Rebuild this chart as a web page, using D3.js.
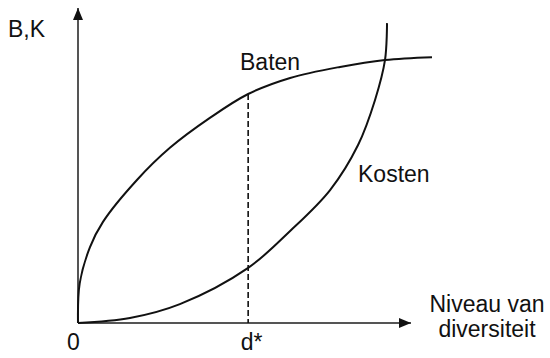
<!DOCTYPE html>
<html lang="nl">
<head>
    <meta charset="UTF-8">
    <title>Baten en Kosten van diversiteit</title>
    <script src="https://d3js.org/d3.v7.min.js"></script>
    <style>
        body { margin: 0; background: #fff; }
        text { font-family: "Liberation Sans", Arial, sans-serif; fill: #111; }
    </style>
</head>
<body>
<svg id="chart" width="550" height="358"></svg>
<script>
    // Curve data (x = niveau van diversiteit, y = baten / kosten)
    const batenX = [0, 0.5, 3.6, 7.5, 17.7, 27.6, 39.6, 51.1, 63.7, 78.7, 92.2, 106.3];
    const batenY = [0, 12.5, 24.1, 32.1, 45.4, 55.6, 65.1, 72.7, 77.8, 81.3, 83.5, 84.4];
    const kostenX = [0, 15.6, 30.6, 51.1, 63.7, 75.7, 84.1, 89.2, 92.2, 92.8];
    const kostenY = [0, 1.6, 6.0, 17.5, 29.2, 42.2, 56.5, 70.8, 83.5, 95.2];

    const dStar = 51.1;
    const xTickValues = [0, dStar];
    const xTickLabels = ['0', 'd*'];
    const yLabel = 'B,K';
    const xLabel = ['Niveau van', 'diversiteit'];

    const svg = d3.select('#chart');

    const x = d3.scaleLinear().domain([0, 100]).range([78, 411]);
    const y = d3.scaleLinear().domain([0, 100]).range([323, 8]);

    // arrow heads
    const defs = svg.append('defs');
    defs.append('marker')
        .attr('id', 'arrow')
        .attr('viewBox', '0 0 12 10')
        .attr('refX', 12)
        .attr('refY', 5)
        .attr('markerWidth', 12)
        .attr('markerHeight', 10)
        .attr('markerUnits', 'userSpaceOnUse')
        .attr('orient', 'auto')
        .append('path')
        .attr('d', 'M0,0 L12,5 L0,10 Z')
        .attr('fill', '#111');

    // axes lines
    svg.append('line')
        .attr('x1', x(0)).attr('y1', y(0))
        .attr('x2', x(0)).attr('y2', y(100))
        .attr('stroke', '#555')
        .attr('stroke-width', 2)
        .attr('marker-end', 'url(#arrow)');

    svg.append('line')
        .attr('x1', x(0)).attr('y1', y(0))
        .attr('x2', x(100)).attr('y2', y(0))
        .attr('stroke', '#555')
        .attr('stroke-width', 2)
        .attr('marker-end', 'url(#arrow)');

    // x tick labels via d3 axis
    const xAxis = svg.append('g')
        .attr('transform', `translate(0,${y(0)})`)
        .call(d3.axisBottom(x)
            .tickValues(xTickValues)
            .tickSize(0)
            .tickPadding(11)
            .tickFormat((d, i) => xTickLabels[i]));
    xAxis.select('.domain').remove();
    xAxis.selectAll('text')
        .attr('font-size', 23)
        .attr('font-family', '"Liberation Sans", Arial, sans-serif')
        .attr('fill', '#111')
        .attr('dx', (d, i) => i === 0 ? -5 : 3);

    // dashed line at d*
    const batenAtD = batenY[batenX.indexOf(dStar)];
    svg.append('line')
        .attr('x1', x(dStar)).attr('y1', y(batenAtD))
        .attr('x2', x(dStar)).attr('y2', y(0))
        .attr('stroke', '#111')
        .attr('stroke-width', 1.6)
        .attr('stroke-dasharray', '6,3');

    const line = d3.line()
        .x(d => x(d[0]))
        .y(d => y(d[1]))
        .curve(d3.curveCatmullRom.alpha(0.5));

    svg.append('path')
        .datum(batenX.map((v, i) => [v, batenY[i]]))
        .attr('fill', 'none')
        .attr('stroke', '#111')
        .attr('stroke-width', 2)
        .attr('d', line);

    svg.append('path')
        .datum(kostenX.map((v, i) => [v, kostenY[i]]))
        .attr('fill', 'none')
        .attr('stroke', '#111')
        .attr('stroke-width', 2)
        .attr('d', line);

    // labels
    svg.append('text').attr('x', 8).attr('y', 37).attr('font-size', 23).text(yLabel);
    svg.append('text').attr('x', 240).attr('y', 70).attr('font-size', 23).text('Baten');
    svg.append('text').attr('x', 358).attr('y', 182).attr('font-size', 23).text('Kosten');

    svg.selectAll('.xlabel')
        .data(xLabel)
        .enter().append('text')
        .attr('class', 'xlabel')
        .attr('x', 487)
        .attr('y', (d, i) => 312 + i * 25)
        .attr('text-anchor', 'middle')
        .attr('font-size', 23)
        .text(d => d);
</script>
</body>
</html>
